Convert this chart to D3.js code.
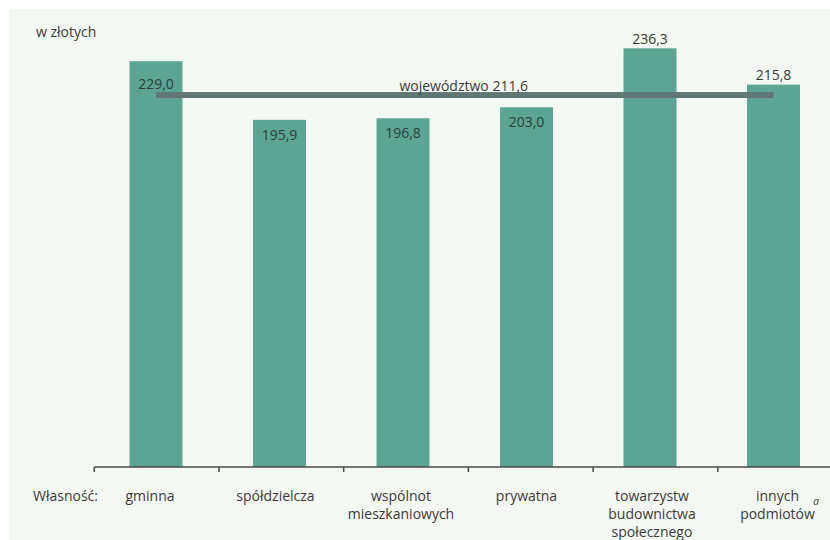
<!DOCTYPE html>
<html>
<head>
<meta charset="utf-8">
<script src="https://cdn.jsdelivr.net/npm/d3@7"></script>
<style>
  html, body { margin: 0; padding: 0; background: #ffffff; }
  svg { display: block; }
  text { font-family: "Open Sans", "DejaVu Sans", sans-serif; }
</style>
</head>
<body>
<svg id="chart" width="830" height="540"></svg>
<script>
// Ownership categories (label lines) and average values in PLN
const categories = ["gminna", "spółdzielcza", "wspólnot", "prywatna", "towarzystw", "innych"];
const categoryLines = [
  ["gminna"],
  ["spółdzielcza"],
  ["wspólnot", "mieszkaniowych"],
  ["prywatna"],
  ["towarzystw", "budownictwa", "społecznego"],
  ["innych", "podmiotów"]
];
const values = [229.0, 195.9, 196.8, 203.0, 236.3, 215.8];
const valueLabels = ["229,0", "195,9", "196,8", "203,0", "236,3", "215,8"];
const regionValue = 211.6;
const regionLabel = "województwo 211,6";
const unitLabel = "w złotych";
const axisTitle = "Własność:";
const footnoteMark = "a";

const W = 830, H = 540;
const svg = d3.select("#chart");

// panel background
svg.append("rect")
  .attr("x", 9).attr("y", 9)
  .attr("width", W - 9).attr("height", H - 9)
  .attr("fill", "#f4f8f2");

const y = d3.scaleLinear().domain([0, 250]).range([467, 24]);

// band positions for axis ticks
const xTick = d3.scaleBand().domain(categories).range([94.3, 842.5]);
// bar centres and label centres
const xBar = d3.scalePoint().domain(categories).range([156, 773.5]);
const xLab = d3.scalePoint().domain(categories).range([150, 777.5]);
const barW = 53;

const teal = "#5ba592";
const textCol = "#3a3a3a";

// bars
svg.append("g").selectAll("rect")
  .data(categories)
  .join("rect")
  .attr("x", (d) => xBar(d) - barW / 2)
  .attr("y", (d, i) => y(values[i]))
  .attr("width", barW)
  .attr("height", (d, i) => y(0) - y(values[i]))
  .attr("fill", teal);

// value labels: some sit inside the bar top, some above it
const insideLabel = new Set(["gminna", "spółdzielcza", "wspólnot", "prywatna"]);
svg.append("g").selectAll("text")
  .data(categories)
  .join("text")
  .attr("x", (d) => xBar(d))
  .attr("y", (d, i) => {
    const top = y(values[i]);
    if (d === "gminna") return top + 28;
    return insideLabel.has(d) ? top + 20 : top - 4.5;
  })
  .attr("text-anchor", "middle")
  .attr("font-size", 14)
  .attr("fill", "#2f3d3a")
  .text((d, i) => valueLabels[i]);

// voivodeship average line
const x1 = xBar(categories[0]), x2 = xBar(categories[categories.length - 1]);
svg.append("rect")
  .attr("x", x1)
  .attr("y", y(regionValue))
  .attr("width", x2 - x1)
  .attr("height", 6)
  .attr("fill", "#617775");

svg.append("text")
  .attr("x", (x1 + x2) / 2 - 1)
  .attr("y", y(regionValue) - 1.5)
  .attr("text-anchor", "middle")
  .attr("font-size", 14)
  .attr("fill", textCol)
  .text(regionLabel);

// x axis baseline and ticks
const axisG = svg.append("g").attr("transform", `translate(0,${y(0)})`);
axisG.append("line")
  .attr("x1", 94.3).attr("x2", W)
  .attr("y1", 0).attr("y2", 0)
  .attr("stroke", "#4a4a4a").attr("stroke-width", 1.5);
axisG.selectAll("line.tick")
  .data(categories)
  .join("line")
  .attr("class", "tick")
  .attr("x1", (d) => xTick(d)).attr("x2", (d) => xTick(d))
  .attr("y1", 0).attr("y2", 5)
  .attr("stroke", "#4a4a4a").attr("stroke-width", 1.5);

// category labels
const lab = svg.append("g").selectAll("text")
  .data(categories)
  .join("text")
  .attr("x", (d) => xLab(d))
  .attr("y", 501)
  .attr("text-anchor", "middle")
  .attr("font-size", 14)
  .attr("fill", textCol);
lab.each(function (d, i) {
  const t = d3.select(this);
  categoryLines[i].forEach((line, j) => {
    t.append("tspan")
      .attr("x", xLab(d))
      .attr("dy", j === 0 ? 0 : 18)
      .text(line);
  });
});

// footnote marker next to the last category
svg.append("text")
  .attr("x", 816)
  .attr("y", 505)
  .attr("text-anchor", "middle")
  .attr("font-size", 10)
  .attr("font-style", "italic")
  .attr("fill", textCol)
  .text(footnoteMark);

// axis title and unit
svg.append("text")
  .attr("x", 33).attr("y", 501)
  .attr("font-size", 14)
  .attr("fill", textCol)
  .text(axisTitle);

svg.append("text")
  .attr("x", 36).attr("y", 37)
  .attr("font-size", 14)
  .attr("fill", textCol)
  .text(unitLabel);
</script>
</body>
</html>
